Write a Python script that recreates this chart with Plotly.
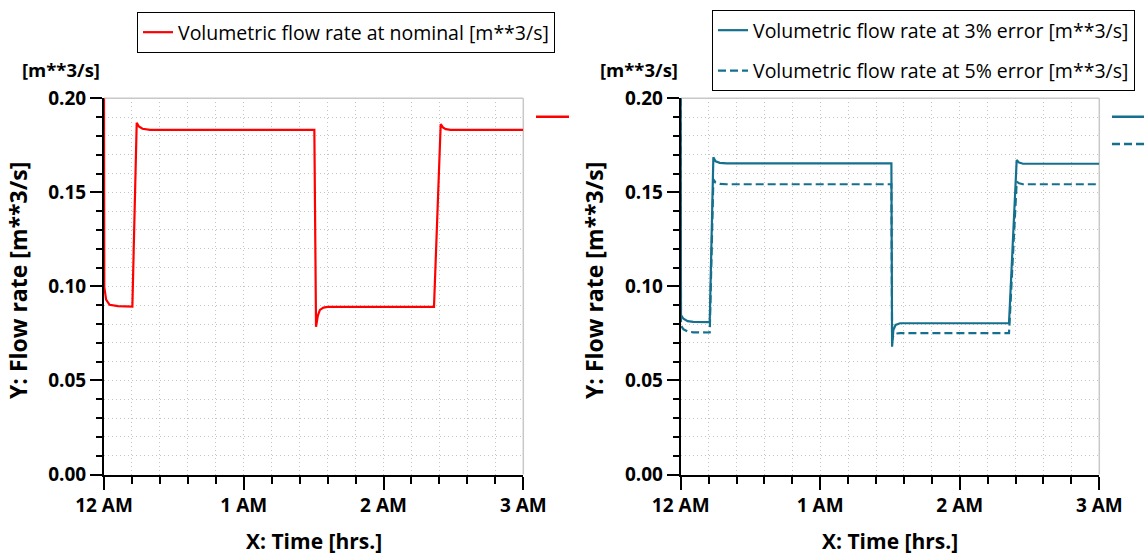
import plotly.graph_objects as go

# ---------------- data (hours since 12 AM, flow rate m**3/s) ----------------
t_nom = [0.000, 0.002, 0.015, 0.040, 0.100, 0.203, 0.234, 0.250, 0.275, 0.330,
         1.505, 1.517, 1.530, 1.545, 1.570, 1.600, 2.361, 2.409, 2.425, 2.445, 2.480, 3.000]
v_nom = [0.200, 0.0998, 0.0930, 0.0902, 0.0895, 0.0893, 0.1870, 0.1850, 0.1838, 0.1832,
         0.1832, 0.0785, 0.0845, 0.0875, 0.0887, 0.0891, 0.0891, 0.1863, 0.1845, 0.1836, 0.1832, 0.1832]

t_err3 = [0.000, 0.002, 0.020, 0.050, 0.090, 0.208, 0.234, 0.250, 0.280, 0.330,
          1.510, 1.515, 1.524, 1.540, 1.572, 2.353, 2.408, 2.425, 2.454, 3.000]
v_err3 = [0.200, 0.0848, 0.0828, 0.0815, 0.0811, 0.0810, 0.1686, 0.1665, 0.1657, 0.1654,
          0.1654, 0.0679, 0.0768, 0.0795, 0.0804, 0.0805, 0.1672, 0.1658, 0.1652, 0.1652]

t_err5 = [0.000, 0.002, 0.020, 0.050, 0.090, 0.208, 0.234, 0.250, 0.280, 0.330,
          1.510, 1.515, 1.524, 1.540, 1.572, 2.353, 2.408, 2.425, 2.454, 3.000]
v_err5 = [0.200, 0.0791, 0.0772, 0.0760, 0.0756, 0.0755, 0.1569, 0.1552, 0.1545, 0.1543,
          0.1543, 0.0715, 0.0740, 0.0749, 0.0752, 0.0752, 0.1557, 0.1548, 0.1543, 0.1543]

x_tickvals = [0, 1, 2, 3]
x_ticktext = ["12 AM", "1 AM", "2 AM", "3 AM"]
y_tickvals = [0.00, 0.05, 0.10, 0.15, 0.20]

RED = "#ff0000"
TEAL = "#15708f"
FONT = "Open Sans"
GRID = "#c4c4c4"
GRIDDASH = "1px,3px"
DASH = "8px,4px"
W, H = 1144, 556

fig = go.Figure()

fig.add_trace(go.Scatter(x=t_nom, y=v_nom, mode="lines", name="Volumetric flow rate at nominal [m**3/s]",
                         line=dict(color=RED, width=2.2), xaxis="x", yaxis="y", legend="legend"))
fig.add_trace(go.Scatter(x=t_err5, y=v_err5, mode="lines", name="Volumetric flow rate at 5% error [m**3/s]",
                         line=dict(color=TEAL, width=2.2, dash=DASH), xaxis="x2", yaxis="y2",
                         legend="legend2", legendgroup="b", legendrank=2))
fig.add_trace(go.Scatter(x=t_err3, y=v_err3, mode="lines", name="Volumetric flow rate at 3% error [m**3/s]",
                         line=dict(color=TEAL, width=2.2), xaxis="x2", yaxis="y2",
                         legend="legend2", legendgroup="a", legendrank=1))

# plot geometry (pixels)
L1, R1 = 104.0, 523.3
L2, R2 = 680.7, 1099.3
TOP, BOT = 98.3, 474.5


def px(x):
    return x / W


def py(y):
    return 1 - y / H


def xaxis_cfg(dom, anchor):
    return dict(domain=[px(dom[0]), px(dom[1])], range=[0, 3], tickmode="array", anchor=anchor,
                tickvals=x_tickvals, ticktext=x_ticktext, automargin=False,
                ticks="outside", ticklen=13, tickwidth=2, tickcolor="black",
                showline=True, linecolor="black", linewidth=2,
                showgrid=True, gridcolor=GRID, griddash=GRIDDASH, gridwidth=1,
                zeroline=False, fixedrange=True,
                tickfont=dict(family=FONT, size=19, color="black", weight="bold"),
                minor=dict(tickmode="linear", tick0=0, dtick=0.2, ticks="outside", ticklen=7,
                           tickwidth=2, tickcolor="black", showgrid=True,
                           gridcolor=GRID, griddash=GRIDDASH, gridwidth=1))


def yaxis_cfg(anchor):
    return dict(domain=[py(BOT), py(TOP)], range=[0, 0.2], tickmode="array",
                tickvals=y_tickvals, tickformat=".2f", anchor=anchor, automargin=False,
                ticks="outside", ticklen=12, tickwidth=2, tickcolor="black",
                showline=True, linecolor="black", linewidth=2,
                showgrid=True, gridcolor=GRID, griddash=GRIDDASH, gridwidth=1,
                zeroline=False, fixedrange=True,
                tickfont=dict(family=FONT, size=19, color="black", weight="bold"),
                minor=dict(tickmode="linear", tick0=0, dtick=0.01, ticks="outside", ticklen=6,
                           tickwidth=2, tickcolor="black", showgrid=True,
                           gridcolor=GRID, griddash=GRIDDASH, gridwidth=1))


shapes = []
for xr, yr in (("x domain", "y domain"), ("x2 domain", "y2 domain")):
    shapes.append(dict(type="line", xref=xr, yref=yr, x0=0, x1=1, y0=1, y1=1,
                       line=dict(color="#c8c8c8", width=1.5), layer="below"))
    shapes.append(dict(type="line", xref=xr, yref=yr, x0=1, x1=1, y0=0, y1=1,
                       line=dict(color="#c8c8c8", width=1.5), layer="below"))

# small cut-off legend keys at the right of each panel
shapes.append(dict(type="line", xref="paper", yref="paper", x0=px(536), x1=px(569),
                   y0=py(116.7), y1=py(116.7), line=dict(color=RED, width=2.5)))
shapes.append(dict(type="line", xref="paper", yref="paper", x0=px(1112), x1=px(1150),
                   y0=py(116.7), y1=py(116.7), line=dict(color=TEAL, width=2.5)))
shapes.append(dict(type="line", xref="paper", yref="paper", x0=px(1112), x1=px(1150),
                   y0=py(144), y1=py(144), line=dict(color=TEAL, width=2.5, dash=DASH)))

annotations = []
for cx, lx in (((L1 + R1) / 2, 18), ((L2 + R2) / 2, 594)):
    annotations.append(dict(text="X: Time [hrs.]", xref="paper", yref="paper", x=px(cx), y=py(541),
                            xanchor="center", yanchor="middle", showarrow=False,
                            font=dict(family=FONT, size=21, color="black", weight="bold")))
    annotations.append(dict(text="Y: Flow rate [m**3/s]", xref="paper", yref="paper", x=px(lx),
                            y=py(281), xanchor="center", yanchor="middle", textangle=-90,
                            showarrow=False, font=dict(family=FONT, size=23, color="black", weight="bold")))
for ux in (61, 639):
    annotations.append(dict(text="[m**3/s]", xref="paper", yref="paper", x=px(ux), y=py(69),
                            xanchor="center", yanchor="middle", showarrow=False,
                            font=dict(family=FONT, size=18.5, color="black", weight="bold")))

legend_common = dict(bgcolor="white", bordercolor="black", borderwidth=1,
                     font=dict(family=FONT, size=19.5, color="black"),
                     xanchor="left", yanchor="top", orientation="v", tracegroupgap=12)

fig.update_layout(
    width=W, height=H, margin=dict(l=0, r=0, t=0, b=0, autoexpand=False),
    paper_bgcolor="white", plot_bgcolor="white",
    xaxis=xaxis_cfg((L1, R1), "y"), yaxis=yaxis_cfg("x"),
    xaxis2=xaxis_cfg((L2, R2), "y2"), yaxis2=yaxis_cfg("x2"),
    shapes=shapes, annotations=annotations,
    showlegend=True,
    legend=dict(x=px(137), y=py(12), **legend_common),
    legend2=dict(x=px(712), y=py(10), traceorder="grouped", **legend_common),
)

fig.write_html("out.html")
